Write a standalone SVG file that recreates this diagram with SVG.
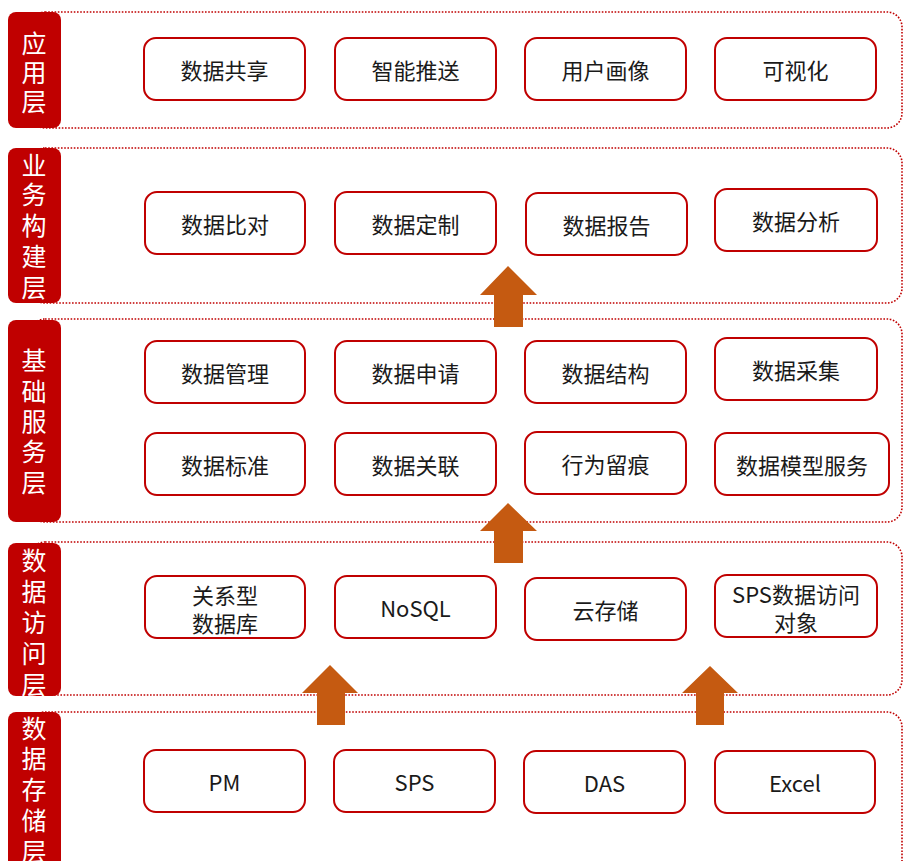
<svg xmlns="http://www.w3.org/2000/svg" width="904" height="861" viewBox="0 0 904 861">
<style>
.band{fill:none;stroke:#C00000;stroke-width:1.6;stroke-dasharray:1.6 1.6}
.lab{fill:#C00000}
.lt{fill:#fff;font-family:"Noto Sans CJK SC","Noto Sans",sans-serif;font-size:25px;text-anchor:middle;dominant-baseline:central}
.nd{fill:#fff;stroke:#C00000;stroke-width:2}
.nt{fill:#1a1a1a;font-family:"Noto Sans CJK SC","Noto Sans",sans-serif;font-size:22px;text-anchor:middle;dominant-baseline:central}
.arr{fill:#C55A11}
</style>
<rect width="904" height="861" fill="#fff"/>

<g id="bands">
<rect class="band" x="30" y="12" width="872" height="116" rx="15"/>
<rect class="band" x="30" y="148" width="872" height="155" rx="15"/>
<rect class="band" x="30" y="319" width="872" height="203" rx="15"/>
<rect class="band" x="30" y="542" width="872" height="153" rx="15"/>
<rect class="band" x="30" y="712" width="872" height="170" rx="15"/>
</g>

<g id="layer-app">
<rect class="lab" x="8" y="12" width="53" height="116" rx="8"/>
<text class="lt" x="34" y="42">应</text><text class="lt" x="34" y="71">用</text><text class="lt" x="34" y="100">层</text>
</g>
<g id="layer-biz">
<rect class="lab" x="8" y="148" width="53" height="155" rx="8"/>
<text class="lt" x="34" y="164">业</text><text class="lt" x="34" y="193">务</text><text class="lt" x="34" y="224">构</text><text class="lt" x="34" y="255">建</text><text class="lt" x="34" y="286">层</text>
</g>
<g id="layer-base">
<rect class="lab" x="8" y="320" width="53" height="202" rx="8"/>
<text class="lt" x="34" y="359">基</text><text class="lt" x="34" y="390">础</text><text class="lt" x="34" y="420">服</text><text class="lt" x="34" y="450">务</text><text class="lt" x="34" y="481">层</text>
</g>
<g id="layer-access">
<rect class="lab" x="8" y="543" width="53" height="153" rx="8"/>
<text class="lt" x="34" y="559">数</text><text class="lt" x="34" y="590">据</text><text class="lt" x="34" y="621">访</text><text class="lt" x="34" y="652">问</text><text class="lt" x="34" y="683">层</text>
</g>
<g id="layer-store">
<rect class="lab" x="8" y="712" width="53" height="170" rx="8"/>
<text class="lt" x="34" y="727">数</text><text class="lt" x="34" y="757">据</text><text class="lt" x="34" y="788">存</text><text class="lt" x="34" y="819">储</text><text class="lt" x="34" y="850">层</text>
</g>

<g id="connectors">
<polygon class="arr" points="508,266 537,295 523,295 523,327 494,327 494,295 480,295"/>
<polygon class="arr" points="508,503 537,531 523,531 523,563 494,563 494,531 480,531"/>
<polygon class="arr" points="330,665 358,693 345,693 345,725 317,725 317,693 302,693"/>
<polygon class="arr" points="710,666 738,693 724,693 724,725 696,725 696,693 682,693"/>
</g>

<g id="n-share"><rect class="nd" x="144" y="38" width="161" height="62" rx="12"/><text class="nt" x="224.5" y="69">数据共享</text></g>
<g id="n-push"><rect class="nd" x="335" y="38" width="161" height="62" rx="12"/><text class="nt" x="415.5" y="69">智能推送</text></g>
<g id="n-profile"><rect class="nd" x="525" y="38" width="161" height="62" rx="12"/><text class="nt" x="605.5" y="69">用户画像</text></g>
<g id="n-vis"><rect class="nd" x="715" y="38" width="161" height="62" rx="12"/><text class="nt" x="795.5" y="69">可视化</text></g>

<g id="n-compare"><rect class="nd" x="145" y="192" width="160" height="62" rx="12"/><text class="nt" x="225" y="223">数据比对</text></g>
<g id="n-custom"><rect class="nd" x="335" y="192" width="161" height="62" rx="12"/><text class="nt" x="415.5" y="223">数据定制</text></g>
<g id="n-report"><rect class="nd" x="526" y="193" width="161" height="62" rx="12"/><text class="nt" x="606.5" y="224">数据报告</text></g>
<g id="n-analysis"><rect class="nd" x="715" y="189" width="162" height="62" rx="12"/><text class="nt" x="796" y="220">数据分析</text></g>

<g id="n-manage"><rect class="nd" x="145" y="341" width="160" height="62" rx="12"/><text class="nt" x="225" y="372">数据管理</text></g>
<g id="n-apply"><rect class="nd" x="335" y="341" width="161" height="62" rx="12"/><text class="nt" x="415.5" y="372">数据申请</text></g>
<g id="n-struct"><rect class="nd" x="525" y="341" width="161" height="62" rx="12"/><text class="nt" x="605.5" y="372">数据结构</text></g>
<g id="n-collect"><rect class="nd" x="715" y="338" width="162" height="62" rx="12"/><text class="nt" x="796" y="369">数据采集</text></g>

<g id="n-standard"><rect class="nd" x="145" y="433" width="160" height="62" rx="12"/><text class="nt" x="225" y="464">数据标准</text></g>
<g id="n-link"><rect class="nd" x="335" y="433" width="161" height="62" rx="12"/><text class="nt" x="415.5" y="464">数据关联</text></g>
<g id="n-trace"><rect class="nd" x="525" y="432" width="161" height="62" rx="12"/><text class="nt" x="605.5" y="463">行为留痕</text></g>
<g id="n-model"><rect class="nd" x="715" y="433" width="174" height="62" rx="12"/><text class="nt" x="802" y="464">数据模型服务</text></g>

<g id="n-rdb"><rect class="nd" x="145" y="576" width="160" height="62" rx="12"/><text class="nt" x="225" y="594">关系型</text><text class="nt" x="225" y="622">数据库</text></g>
<g id="n-nosql"><rect class="nd" x="335" y="576" width="161" height="62" rx="12"/><text class="nt" x="415.5" y="607">NoSQL</text></g>
<g id="n-cloud"><rect class="nd" x="525" y="578" width="161" height="62" rx="12"/><text class="nt" x="605.5" y="609">云存储</text></g>
<g id="n-spsdao"><rect class="nd" x="715" y="575" width="162" height="62" rx="12"/><text class="nt" x="796" y="593">SPS数据访问</text><text class="nt" x="796" y="621">对象</text></g>

<g id="n-pm"><rect class="nd" x="144" y="750" width="161" height="62" rx="12"/><text class="nt" x="224.5" y="781">PM</text></g>
<g id="n-sps"><rect class="nd" x="334" y="750" width="161" height="62" rx="12"/><text class="nt" x="414.5" y="781">SPS</text></g>
<g id="n-das"><rect class="nd" x="524" y="751" width="161" height="62" rx="12"/><text class="nt" x="604.5" y="782">DAS</text></g>
<g id="n-excel"><rect class="nd" x="715" y="751" width="160" height="62" rx="12"/><text class="nt" x="795" y="782">Excel</text></g>
</svg>
